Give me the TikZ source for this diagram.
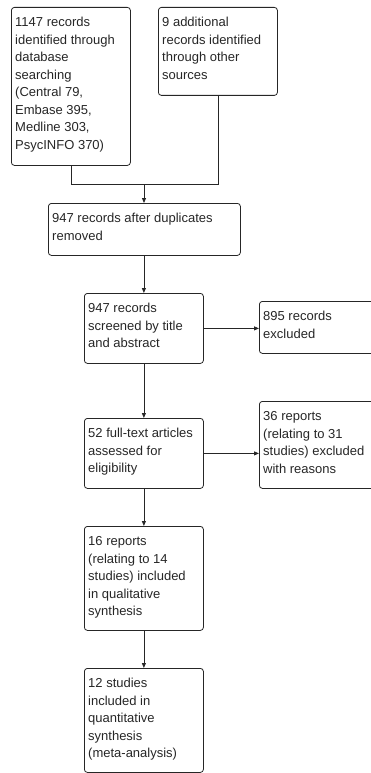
\documentclass[tikz,border=0pt]{standalone}
\usepackage{fontspec}
\setmainfont{Liberation Sans}
\usetikzlibrary{arrows.meta,calc}
\begin{document}
\begin{tikzpicture}[x=1pt,y=-1pt,
  box/.style={draw=black!85, line width=0.8pt, rounded corners=3pt, anchor=north west, inner sep=0pt},
  txt/.style={anchor=north west, inner sep=0pt, align=left, font=\fontsize{13}{17.5}\selectfont, text=black!85},
  conn/.style={draw=black!85, line width=0.8pt},
  arr/.style={conn, -{Triangle[length=5pt,width=4pt]}}]
\useasboundingbox (0,0) rectangle (370,773);
% boxes
\node[box, minimum width=119pt, minimum height=158pt] (a) at (11,7) {};
\node[box, minimum width=119pt, minimum height=88pt] (b) at (158,7) {};
\node[box, minimum width=192pt, minimum height=52pt] (c) at (48,203) {};
\node[box, minimum width=119pt, minimum height=70pt] (d) at (84,293) {};
\node[box, minimum width=125pt, minimum height=52pt] (e) at (259,301) {};
\node[box, minimum width=119pt, minimum height=70pt] (f) at (84,418) {};
\node[box, minimum width=125pt, minimum height=87pt] (g) at (259,401) {};
\node[box, minimum width=119pt, minimum height=104pt] (h) at (84,526) {};
\node[box, minimum width=119pt, minimum height=104pt] (i) at (84,668) {};
% texts
\node[txt] (at) at ($(a.north west)+(4,7.25)$) {\strut 1147 records\\identified through\\database\\searching\\(Central 79,\\Embase 395,\\Medline 303,\\PsycINFO 370)};
\node[txt] (bt) at ($(b.north west)+(4,7.25)$) {\strut 9 additional\\records identified\\through other\\sources};
\node[txt] (ct) at ($(c.north west)+(4,7.25)$) {\strut 947 records after duplicates\\removed};
\node[txt] (dt) at ($(d.north west)+(4,7.25)$) {\strut 947 records\\screened by title\\and abstract};
\node[txt] (et) at ($(e.north west)+(4,7.25)$) {\strut 895 records\\excluded};
\node[txt] (ft) at ($(f.north west)+(4,7.25)$) {\strut 52 full-text articles\\assessed for\\eligibility};
\node[txt] (gt) at ($(g.north west)+(4,7.25)$) {\strut 36 reports\\(relating to 31\\studies) excluded\\with reasons};
\node[txt] (ht) at ($(h.north west)+(4,7.25)$) {\strut 16 reports\\(relating to 14\\studies) included\\in qualitative\\synthesis};
\node[txt] (it) at ($(i.north west)+(4,7.25)$) {\strut 12 studies\\included in\\quantitative\\synthesis\\(meta-analysis)};
% connectors
\coordinate (j) at (144,184);
\draw[conn] (a.south) -- (a.south |- j) -- (b.south |- j) -- (b.south);
\draw[arr] (j) -- (j |- c.north);
\draw[arr] (c.south -| d.north) -- (d.north);
\draw[arr] (d.east) -- (d.east -| e.west);
\draw[arr] (d.south) -- (f.north);
\draw[arr] (f.east) -- (f.east -| g.west);
\draw[arr] (f.south) -- (h.north);
\draw[arr] (h.south) -- (i.north);
\end{tikzpicture}
\end{document}
